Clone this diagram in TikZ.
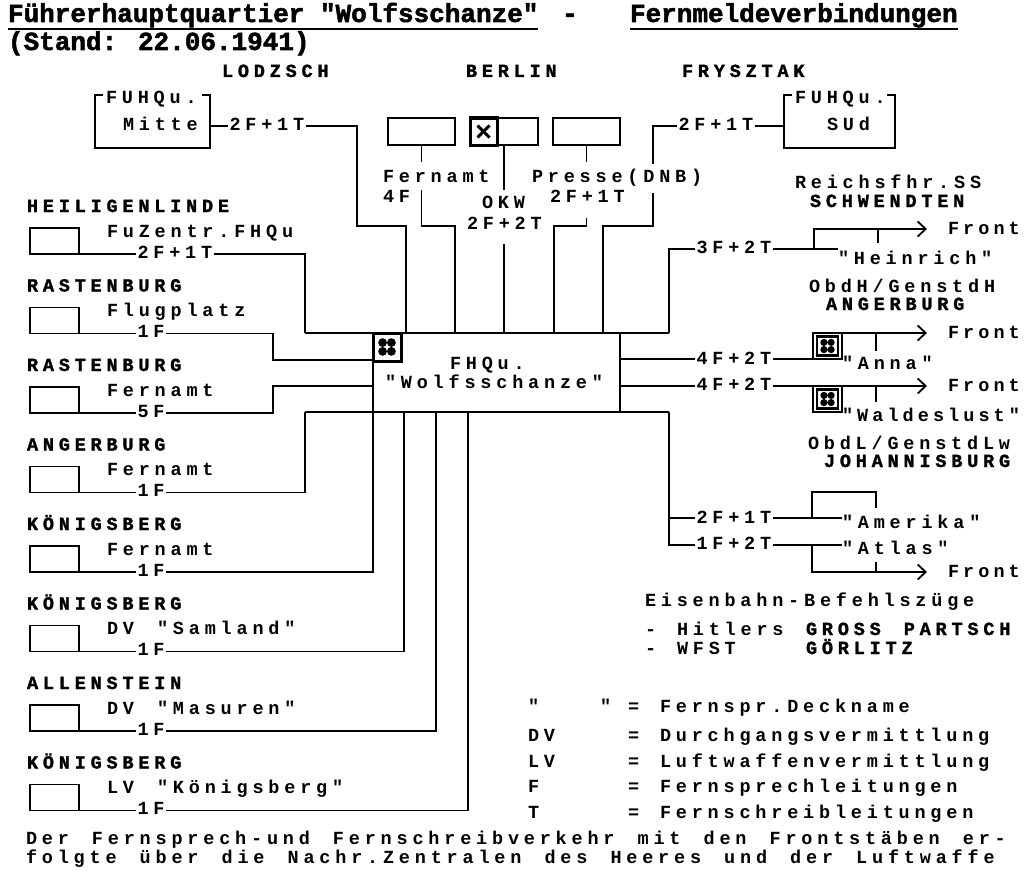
\documentclass[tikz,border=0pt]{standalone}
\usepackage{fontspec}
\usetikzlibrary{arrows.meta}
\newfontfamily\txtfam{Liberation Mono Bold}[LetterSpace=26,WordSpace=1.45]
\newfontfamily\narrowfam{Liberation Mono Bold}[LetterSpace=22,WordSpace=1.4]
\newfontfamily\namefam{Liberation Mono Bold}[LetterSpace=26,WordSpace=1.45,FakeBold=1.5]
\newfontfamily\ttlfam{Liberation Mono Bold}[FakeBold=2]
\newcommand\bodyfont{\fontsize{18.5}{20}\txtfam}
\newcommand\narrowfont{\fontsize{18.5}{20}\narrowfam}
\newcommand\namefont{\fontsize{18.5}{20}\namefam}
\newcommand\ttlfont{\fontsize{26}{28}\ttlfam}
\tikzset{
  every node/.style={inner sep=0pt,outer sep=0pt},
  lbl/.style={anchor=base west,font=\bodyfont},
  nlbl/.style={anchor=base west,font=\narrowfont},
  plc/.style={anchor=base west,font=\namefont},
  cnt/.style={lbl,inner xsep=1.5pt},
  wire/.style={line width=1.8pt},
  front/.style={wire,-{Straight Barb[length=8pt,width=15pt,line width=1.8pt]}},
  stnbox/.style={draw,line width=1.8pt,anchor=north west,minimum width=49pt,minimum height=26pt},
  berlbox/.style={draw,line width=1.8pt,anchor=north west,minimum width=67pt,minimum height=27pt},
  hqsym/.style={draw,line width=3pt,anchor=north west,minimum width=28pt,minimum height=28pt},
  frsym/.style={draw,line width=1.8pt,anchor=north west,minimum width=29pt,minimum height=26pt},
}
% four blobs inside a symbol square
\newcommand\quatro[2]{%
  \fill (#1.center) ++(-#2,#2) circle (#2) ++(2*#2,0) circle (#2)
        ++(0,-2*#2) circle (#2) ++(-2*#2,0) circle (#2);
  \fill[white] (#1.center) circle (1pt);
}
\begin{document}
\begin{tikzpicture}[x=1pt,y=-1pt]
\useasboundingbox (0,0) rectangle (1024,880);
\fill[white] (0,0) rectangle (1024,880);
% Kopf
\node[anchor=base west,font=\ttlfont] (ttl1) at (8,22) {Führerhauptquartier "Wolfsschanze"};
\node[anchor=base west,font=\ttlfont] (ttl2) at (562,22) {-};
\node[anchor=base west,font=\ttlfont] (ttl3) at (630,22) {Fernmeldeverbindungen};
\node[anchor=base west,font=\ttlfont] (stand) at (8,50) {(Stand: 22.06.1941)};
\draw[wire] (ttl1.west |- 0,29) -- (ttl1.east |- 0,29);
\draw[wire] (ttl3.west |- 0,29) -- (ttl3.east |- 0,29);

% Zentrale
\node[draw,line width=1.8pt,minimum width=247pt,minimum height=79pt] (hq) at (496.5,372.5) {};
\node[lbl] (hq1) at (450,369) {FHQu.};
\node[lbl] (hq2) at (385,388) {"Wolfsschanze"};
\node[hqsym] (hqs) at (373,333) {};
\quatro{hqs}{4.4pt}
\draw[wire] (305,333) -- (669,333);
\draw[wire] (305,412) -- (669,412);

% oben
\node[plc] (lodz) at (222,77) {LODZSCH};
\node[plc] (berl) at (466,77) {BERLIN};
\node[plc] (frys) at (682,77) {FRYSZTAK};

\node[anchor=north west,minimum width=115pt,minimum height=53pt] (mitte) at (95,95) {};
\draw[wire] ([xshift=8pt]mitte.north west) -- (mitte.north west) -- (mitte.south west)
  -- (mitte.south east) -- (mitte.north east) -- ([xshift=-8pt]mitte.north east);
\node[lbl] at (106,104) {FUHQu.};
\node[lbl] at (123,131) {Mitte};
\node[cnt] (cm) at (228,130) {2F+1T};
\draw[wire] (mitte.east |- 0,126) -- (cm.west |- 0,126);
\draw[wire] (cm.east |- 0,126) -| (357,226) -| (406,333);

\node[berlbox] (bfa) at (388,118) {};
\node[berlbox,minimum width=68pt] (bokw) at (470,118) {};
\node[hqsym,minimum width=27pt,minimum height=27pt] (okws) at (470,118) {};
\draw[line width=3pt] ([shift={(-6pt,-6pt)}]okws.center) -- ([shift={(6pt,6pt)}]okws.center);
\draw[line width=3pt] ([shift={(-6pt,6pt)}]okws.center) -- ([shift={(6pt,-6pt)}]okws.center);
\node[berlbox] (bpr) at (553,118) {};
\draw[wire] (bfa.south) -- (bfa.south |- 0,162);
\draw[wire] (bfa.south |- 0,190) |- (455,226) -- (455,333);
\node[lbl] at (383,182) {Fernamt};
\node[lbl] at (383,202) {4F};
\draw[wire] (bokw.south) -- (bokw.south |- 0,190);
\draw[wire] (bokw.south |- 0,244) -- (bokw.south |- 0,333);
\node[lbl] at (482,208) {OKW};
\node[lbl] at (467,229) {2F+2T};
\draw[wire] (bpr.south) -- (bpr.south |- 0,162);
\draw[wire] (bpr.south |- 0,218) |- (554,226) -- (554,333);
\node[lbl] at (532,182) {Presse(DNB)};
\node[lbl] at (550,202) {2F+1T};

\node[anchor=north west,minimum width=111pt,minimum height=53pt] (sued) at (784,95) {};
\draw[wire] ([xshift=8pt]sued.north west) -- (sued.north west) -- (sued.south west)
  -- (sued.south east) -- (sued.north east) -- ([xshift=-8pt]sued.north east);
\node[lbl] at (795,104) {FUHQu.};
\node[lbl] at (827,131) {SUd};
\node[cnt] (cs) at (677,130) {2F+1T};
\draw[wire] (sued.west |- 0,126) -- (cs.east |- 0,126);
\draw[wire] (cs.west |- 0,126) -| (653,164);
\draw[wire] (653,193) |- (603,226) -- (603,333);

% links
\foreach \i/\pl/\sb/\ct in {0/HEILIGENLINDE/FuZentr.FHQu/2F+1T,1/RASTENBURG/Flugplatz/1F,
    2/RASTENBURG/Fernamt/5F,3/ANGERBURG/Fernamt/1F,4/KÖNIGSBERG/Fernamt/1F,
    5/KÖNIGSBERG/DV "Samland"/1F,6/ALLENSTEIN/DV "Masuren"/1F,7/KÖNIGSBERG/LV "Königsberg"/1F}{
  \pgfmathsetmacro\yy{212+79.5*\i}
  \node[plc] (pl\i) at (27,\yy) {\pl};
  \node[stnbox] (bx\i) at (30,\yy+16) {};
  \node[lbl] (sb\i) at (107,\yy+25) {\sb};
  \node[cnt] (ct\i) at (136,\yy+46) {\ct};
  \draw[wire] (bx\i.south east) -- (ct\i.west |- bx\i.south);
}
\draw[wire] (ct0.east |- bx0.south) -| (305,333);
\draw[wire] (ct1.east |- bx1.south) -| (273,360) -- (hq.west |- 0,360);
\draw[wire] (ct2.east |- bx2.south) -| (273,386) -- (hq.west |- 0,386);
\draw[wire] (ct3.east |- bx3.south) -| (305,412);
\draw[wire] (ct4.east |- bx4.south) -| (hq.south west);
\draw[wire] (ct5.east |- bx5.south) -| (404,412);
\draw[wire] (ct6.east |- bx6.south) -| (436,412);
\draw[wire] (ct7.east |- bx7.south) -| (468,412);

% rechts: Heinrich
\node[lbl] at (795,188) {Reichsfhr.SS};
\node[plc] at (810,207) {SCHWENDTEN};
\node[cnt] (c3) at (695,253) {3F+2T};
\node[lbl] (hein) at (838,264) {"Heinrich"};
\node[nlbl] (fr1) at (948,234) {Front};
\draw[wire] (669,333) |- (c3.west |- 0,249);
\draw[wire] (c3.east |- 0,249) -- (hein.west |- 0,249);
\draw[front,shorten >=21pt] (814,249) |- (fr1.west |- 0,229);
\draw[wire] (878,229) -- (878,243);

% Anna
\node[lbl] at (809,292) {ObdH/GenstdH};
\node[plc] at (826,310) {ANGERBURG};
\node[cnt] (c4) at (695,364) {4F+2T};
\node[lbl] (anna) at (842,369) {"Anna"};
\node[nlbl] (fr2) at (948,338) {Front};
\node[frsym] (as) at (813,333) {};
\node[draw,line width=2.5pt,minimum width=21pt,minimum height=19pt] (as2) at (as.center) {};
\quatro{as2}{3.6pt}
\draw[wire] (hq.east |- 0,359) -- (c4.west |- 0,359);
\draw[wire] (c4.east |- 0,359) -- (anna.west |- 0,359);
\draw[front,shorten >=21pt] (as.north west) -- (as.north west -| fr2.west);
\draw[wire] (876,333) -- (876,351);

% Waldeslust
\node[cnt] (c5) at (695,390) {4F+2T};
\node[nlbl] (wald) at (842,421) {"Waldeslust"};
\node[nlbl] (fr3) at (948,391) {Front};
\node[frsym] (ws) at (813,386) {};
\node[draw,line width=2.5pt,minimum width=21pt,minimum height=19pt] (ws2) at (ws.center) {};
\quatro{ws2}{3.6pt}
\draw[wire] (hq.east |- 0,386) -- (c5.west |- 0,386);
\draw[front,shorten >=21pt] (c5.east |- 0,386) -- (fr3.west |- 0,386);
\draw[wire] (ws.south west) -- (wald.west |- ws.south);
\draw[wire] (876,386) -- (876,402);

% Amerika / Atlas
\node[lbl] at (808,449) {ObdL/GenstdLw};
\node[plc] at (824,467) {JOHANNISBURG};
\node[cnt] (c6) at (695,523) {2F+1T};
\node[lbl] (amer) at (842,528) {"Amerika"};
\node[cnt] (c7) at (695,549) {1F+2T};
\node[lbl] (atl) at (842,554) {"Atlas"};
\node[nlbl] (fr4) at (948,577) {Front};
\draw[wire] (669,412) |- (c7.west |- 0,545);
\draw[wire] (669,518) -- (c6.west |- 0,518);
\draw[wire] (c6.east |- 0,518) -- (amer.west |- 0,518);
\draw[wire] (c7.east |- 0,545) -- (atl.west |- 0,545);
\draw[wire] (812,518) |- (876,492) -- (876,508);
\draw[front,shorten >=21pt] (812,545) |- (fr4.west |- 0,572);
\draw[wire] (876,572) -- (876,562);

% Befehlszuege
\node[lbl] at (645,606) {Eisenbahn-Befehlszüge};
\node[lbl] at (645,635) {-};
\node[lbl] at (677,635) {Hitlers};
\node[plc] at (806,635) {GROSS PARTSCH};
\node[lbl] at (645,654) {-};
\node[lbl] at (677,654) {WFST};
\node[plc] at (806,654) {GÖRLITZ};

% Zeichenerklaerung
\node[lbl] at (528,712) {"};
\node[lbl] at (600,712) {"};
\node[lbl] at (628,712) {=};
\node[lbl] at (660,712) {Fernspr.Deckname};
\foreach \k/\d/\yy in {DV/Durchgangsvermittlung/741,LV/Luftwaffenvermittlung/767,
    F/Fernsprechleitungen/792,T/Fernschreibleitungen/818}{
  \node[lbl] at (528,\yy) {\k};
  \node[lbl] at (628,\yy) {=};
  \node[lbl] at (660,\yy) {\d};
}
\node[lbl] at (26,844) {Der Fernsprech-und Fernschreibverkehr mit den Frontstäben er-};
\node[lbl] at (26,863) {folgte über die Nachr.Zentralen des Heeres und der Luftwaffe};
\end{tikzpicture}
\end{document}
